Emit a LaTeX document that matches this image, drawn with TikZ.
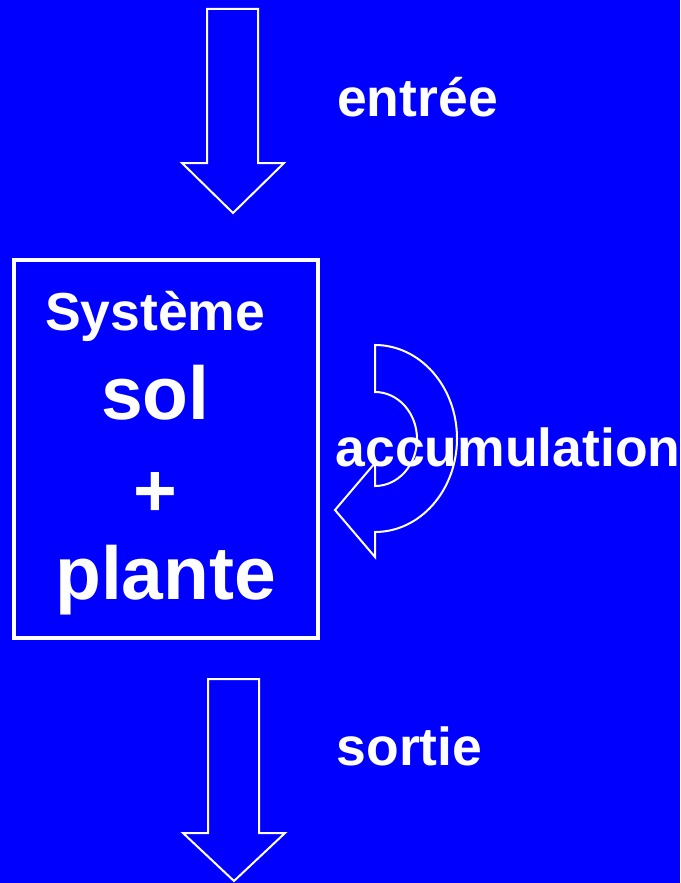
\documentclass[tikz,border=0pt]{standalone}
\usepackage{fontspec}
\setmainfont{Liberation Sans}
\definecolor{slideblue}{RGB}{0,0,255}
\tikzset{
  outline/.style={draw=white, line width=2pt, line join=miter},
  label/.style={text=white, inner sep=0pt, anchor=base west, font=\bfseries\fontsize{53.5}{60}\selectfont},
  biglabel/.style={text=white, inner sep=0pt, anchor=base west, font=\bfseries\fontsize{75}{85}\selectfont},
}
\begin{document}
\begin{tikzpicture}[x=1pt, y=1pt]
  % background and page size
  \fill[slideblue] (0,0) rectangle (680,-883);
  \useasboundingbox (0,0) rectangle (680,-883);

  % incoming flow arrow
  \draw[outline] (207,-9) -- (258,-9) -- (258,-163) -- (284,-163)
    -- (233,-213) -- (182,-163) -- (207,-163) -- cycle;

  % system box
  \draw[draw=white, line width=4pt] (14,-260) rectangle (318,-638);

  % outgoing flow arrow
  \draw[outline] (208,-679) -- (259,-679) -- (259,-833) -- (285,-833)
    -- (234,-881) -- (183,-833) -- (208,-833) -- cycle;

  % labels
  \node[label] (entree) at (337,-116) {entrée};
  \node[label] (accu) at (335.5,-466) {accumulation};
  \node[label] (sortie) at (336.5,-765) {sortie};
  \node[label] (systeme) at (45,-330) {Système};
  \node[biglabel] (sol) at (101,-419) {sol};
  \node[biglabel, anchor=base] (plus) at (155,-516) {+};
  \node[biglabel] (plante) at (55,-599) {plante};

  % curved accumulation arrow, drawn over its label
  \draw[outline] (375,-345)
    arc[start angle=90, end angle=-90, x radius=82, y radius=93.5]
    -- (375,-557) -- (335,-510) -- (375,-463) -- (375,-486)
    arc[start angle=-90, end angle=90, x radius=42, y radius=47]
    -- cycle;
\end{tikzpicture}
\end{document}
